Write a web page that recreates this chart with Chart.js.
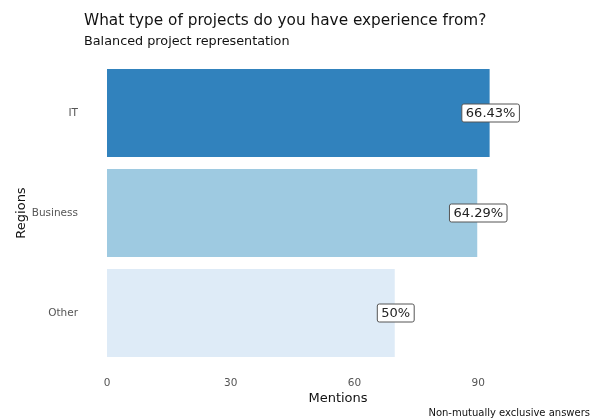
<!DOCTYPE html>
<html>
<head>
<meta charset="utf-8">
<script src="https://cdn.jsdelivr.net/npm/chart.js@4"></script>
<style>
  html, body { margin: 0; padding: 0; background: #fff; }
  #wrap { width: 599px; height: 419px; }
</style>
</head>
<body>
<div id="wrap"><canvas id="projChart"></canvas></div>
<script>
const categories = ["IT", "Business", "Other"];
const mentions = [93, 90, 70];
const shareLabels = ["66.43%", "64.29%", "50%"];
const barColors = ["#3182bd", "#9ecae1", "#deebf7"];
const xTicks = [0, 30, 60, 90];

const FONT = "'DejaVu Sans', sans-serif";

// titles, caption and the boxed percentage labels
const annotate = {
  id: "annotate",
  afterDatasetsDraw(chart) {
    const ctx = chart.ctx;
    const meta = chart.getDatasetMeta(0);
    ctx.save();
    ctx.font = "13px " + FONT;
    ctx.textAlign = "center";
    ctx.textBaseline = "middle";
    meta.data.forEach((bar, i) => {
      const txt = shareLabels[i];
      const w = ctx.measureText(txt).width + 8;
      const h = 18;
      const x = bar.x, y = bar.y;
      ctx.beginPath();
      ctx.roundRect(x - w / 2, y - h / 2, w, h, 2);
      ctx.fillStyle = "#fff";
      ctx.fill();
      ctx.lineWidth = 1;
      ctx.strokeStyle = "#555";
      ctx.stroke();
      ctx.fillStyle = "#222";
      ctx.fillText(txt, x, y + 0.5);
    });
    ctx.restore();
  },
  afterDraw(chart) {
    const ctx = chart.ctx;
    ctx.save();
    ctx.fillStyle = "#111";
    ctx.textBaseline = "alphabetic";
    ctx.textAlign = "left";
    ctx.font = "15.3px " + FONT;
    ctx.fillText("What type of projects do you have experience from?", 84, 25);
    ctx.font = "12.8px " + FONT;
    ctx.fillText("Balanced project representation", 84, 45);
    ctx.textAlign = "right";
    ctx.font = "10px " + FONT;
    ctx.fillText("Non-mutually exclusive answers", 590, 416);
    ctx.restore();
  }
};

new Chart(document.getElementById("projChart"), {
  type: "bar",
  data: {
    labels: categories,
    datasets: [{
      data: mentions,
      backgroundColor: barColors,
      borderColor: "rgba(255,255,255,0.35)",
      borderWidth: 1,
      barPercentage: 0.9,
      categoryPercentage: 1.0
    }]
  },
  options: {
    indexAxis: "y",
    responsive: true,
    maintainAspectRatio: false,
    animation: false,
    layout: { padding: { top: 63, right: 30, bottom: 13, left: 0 } },
    plugins: {
      legend: { display: false },
      tooltip: { enabled: false }
    },
    scales: {
      x: {
        min: 0,
        max: 112,
        afterFit: (axis) => { axis.height = 43; },
        afterBuildTicks: (axis) => { axis.ticks = xTicks.map(v => ({ value: v })); },
        grid: { display: false, drawTicks: false },
        border: { display: false },
        ticks: { color: "#555", font: { family: FONT, size: 10.5 }, padding: 14 },
        title: { display: true, text: "Mentions", color: "#111", font: { family: FONT, size: 13 }, padding: { top: 0, bottom: 0 } }
      },
      y: {
        afterFit: (axis) => { axis.width = 107; },
        grid: { display: false, drawTicks: false },
        border: { display: false },
        ticks: { color: "#555", font: { family: FONT, size: 10.5 }, padding: 29 },
        title: { display: true, text: "Regions", color: "#111", font: { family: FONT, size: 13 }, padding: { top: 14, bottom: 0 } }
      }
    }
  },
  plugins: [annotate]
});
</script>
</body>
</html>
